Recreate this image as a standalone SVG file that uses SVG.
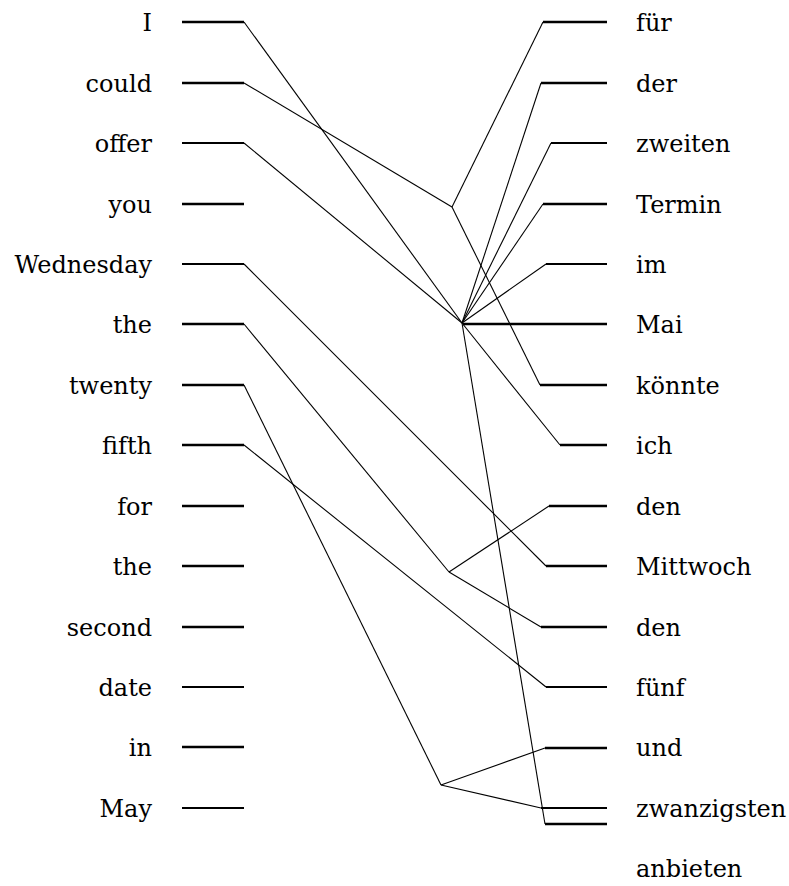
<svg xmlns="http://www.w3.org/2000/svg" width="789" height="886" viewBox="0 0 789 886">
<style>
text{font-family:'DejaVu Serif','Liberation Serif',serif;font-size:24px;fill:#000}
.l{text-anchor:end}
.s{stroke:#000;stroke-width:2.7;fill:none}
.n{stroke:#000;stroke-width:1.9;fill:none}
.c{stroke:#000;stroke-width:1.1;fill:none}
</style>
<rect width="789" height="886" fill="#fff"/>
<g id="left">
<g id="L0"><text class="l" x="152" y="31">I</text><line class="s" x1="182" y1="22" x2="244" y2="22"/></g>
<g id="L1"><text class="l" x="152" y="92">could</text><line class="s" x1="182" y1="83" x2="244" y2="83"/></g>
<g id="L2"><text class="l" x="152" y="152">offer</text><line class="n" x1="182" y1="143" x2="244" y2="143"/></g>
<g id="L3"><text class="l" x="152" y="213">you</text><line class="s" x1="182" y1="204" x2="244" y2="204"/></g>
<g id="L4"><text class="l" x="152" y="273">Wednesday</text><line class="n" x1="182" y1="264" x2="244" y2="264"/></g>
<g id="L5"><text class="l" x="152" y="333">the</text><line class="s" x1="182" y1="324" x2="244" y2="324"/></g>
<g id="L6"><text class="l" x="152" y="394">twenty</text><line class="s" x1="182" y1="385" x2="244" y2="385"/></g>
<g id="L7"><text class="l" x="152" y="454">fifth</text><line class="s" x1="182" y1="445" x2="244" y2="445"/></g>
<g id="L8"><text class="l" x="152" y="515">for</text><line class="s" x1="182" y1="506" x2="244" y2="506"/></g>
<g id="L9"><text class="l" x="152" y="575">the</text><line class="s" x1="182" y1="566" x2="244" y2="566"/></g>
<g id="L10"><text class="l" x="152" y="636">second</text><line class="s" x1="182" y1="627" x2="244" y2="627"/></g>
<g id="L11"><text class="l" x="152" y="696">date</text><line class="n" x1="182" y1="687" x2="244" y2="687"/></g>
<g id="L12"><text class="l" x="152" y="756">in</text><line class="s" x1="182" y1="747" x2="244" y2="747"/></g>
<g id="L13"><text class="l" x="152" y="817">May</text><line class="n" x1="182" y1="808" x2="244" y2="808"/></g>
</g>
<g id="right">
<g id="R0"><text x="636" y="31">für</text><line class="s" x1="543" y1="22" x2="607" y2="22"/></g>
<g id="R1"><text x="636" y="92">der</text><line class="s" x1="541" y1="83" x2="607" y2="83"/></g>
<g id="R2"><text x="636" y="152">zweiten</text><line class="n" x1="551" y1="143" x2="607" y2="143"/></g>
<g id="R3"><text x="636" y="213">Termin</text><line class="s" x1="543" y1="204" x2="607" y2="204"/></g>
<g id="R4"><text x="636" y="273">im</text><line class="n" x1="546" y1="264" x2="607" y2="264"/></g>
<g id="R5"><text x="636" y="333">Mai</text><line class="s" x1="463" y1="324" x2="607" y2="324"/></g>
<g id="R6"><text x="636" y="394">könnte</text><line class="s" x1="540" y1="385" x2="607" y2="385"/></g>
<g id="R7"><text x="636" y="454">ich</text><line class="s" x1="560" y1="445" x2="607" y2="445"/></g>
<g id="R8"><text x="636" y="515">den</text><line class="s" x1="549" y1="506" x2="607" y2="506"/></g>
<g id="R9"><text x="636" y="575">Mittwoch</text><line class="s" x1="546" y1="566" x2="607" y2="566"/></g>
<g id="R10"><text x="636" y="636">den</text><line class="s" x1="541" y1="627" x2="607" y2="627"/></g>
<g id="R11"><text x="636" y="696">fünf</text><line class="n" x1="546" y1="687" x2="607" y2="687"/></g>
<g id="R12"><text x="636" y="756">und</text><line class="s" x1="545" y1="748" x2="607" y2="748"/></g>
<g id="R13"><text x="636" y="817">zwanzigsten</text><line class="n" x1="541" y1="808" x2="607" y2="808"/></g>
<g id="R14"><text x="636" y="877">anbieten</text><line class="s" x1="545" y1="824" x2="607" y2="824"/></g>
</g>
<g id="connectors">
<line class="c" x1="244" y1="22" x2="462" y2="323"/>
<line class="c" x1="244" y1="83" x2="452" y2="207"/>
<line class="c" x1="244" y1="143" x2="462" y2="323"/>
<line class="c" x1="244" y1="264" x2="546" y2="566"/>
<line class="c" x1="244" y1="324" x2="449" y2="572"/>
<line class="c" x1="244" y1="385" x2="441" y2="785"/>
<line class="c" x1="244" y1="445" x2="546" y2="687"/>
<line class="c" x1="452" y1="207" x2="543" y2="22"/>
<line class="c" x1="452" y1="207" x2="540" y2="385"/>
<line class="c" x1="462" y1="323" x2="541" y2="83"/>
<line class="c" x1="462" y1="323" x2="551" y2="143"/>
<line class="c" x1="462" y1="323" x2="543" y2="204"/>
<line class="c" x1="462" y1="323" x2="546" y2="264"/>
<line class="c" x1="462" y1="323" x2="560" y2="445"/>
<line class="c" x1="462" y1="323" x2="545" y2="824"/>
<line class="c" x1="449" y1="572" x2="549" y2="506"/>
<line class="c" x1="449" y1="572" x2="541" y2="627"/>
<line class="c" x1="441" y1="785" x2="545" y2="748"/>
<line class="c" x1="441" y1="785" x2="541" y2="808"/>
</g>
</svg>
